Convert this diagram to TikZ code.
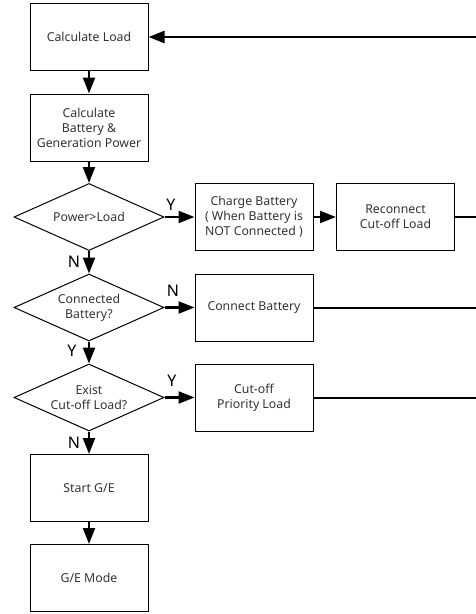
\documentclass[tikz,border=0pt]{standalone}
\usepackage{fontspec}
\setmainfont{Noto Sans}
\usetikzlibrary{shapes.geometric,arrows.meta}

\begin{document}
\begin{tikzpicture}[x=1pt,y=-1pt,
	box/.style={draw,line width=1pt,minimum width=118pt,minimum height=67pt,inner sep=2pt,align=center,
		text=black!80,font=\fontsize{12.3}{15}\selectfont},
	decision/.style={draw,diamond,line width=1pt,minimum width=150pt,minimum height=67pt,inner sep=0pt},
	dtext/.style={inner sep=0pt,align=center,text=black!80,font=\fontsize{12.3}{15}\selectfont},
	flow/.style={line width=2.2pt,-{Triangle[length=16pt,width=12pt]}},
	back/.style={line width=2.2pt},
	yn/.style={inner sep=0pt,font=\fontsize{16}{16}\selectfont}]

	\useasboundingbox (0,0) rectangle (476,614);

	% main column
	\node[box] (load) at (89,37) {Calculate Load};
	\node[box] (power) at (89,127.5) {Calculate\\Battery \&\\Generation Power};
	\node[decision,label={[dtext]center:Power>Load}] (over) at (89,217) {};
	\node[decision,label={[dtext]center:Connected\\Battery?}] (connected) at (89,307.5) {};
	\node[decision,label={[dtext]center:Exist\\Cut-off Load?}] (exist) at (89,397.5) {};
	\node[box] (start) at (89,488) {Start G/E};
	\node[box] (mode) at (89,578) {G/E Mode};

	% actions
	\node[box] (charge) at (254,217) {Charge Battery\\( When Battery is\\NOT Connected )};
	\node[box] (reconnect) at (395.5,217) {Reconnect\\Cut-off Load};
	\node[box] (connect) at (254,308) {Connect Battery};
	\node[box] (cutoff) at (254,398) {Cut-off\\Priority Load};

	\coordinate (r0) at (476,37);
	\coordinate (r1) at (476,217);
	\coordinate (r2) at (476,308);
	\coordinate (r3) at (476,398);

	\draw[flow] (load) -- (power);
	\draw[flow] (power) -- (over);
	\draw[flow] (over) -- (connected);
	\draw[flow] (connected) -- (exist);
	\draw[flow] (exist) -- (start);
	\draw[flow] (start) -- (mode);

	\draw[flow] (over) -- (charge);
	\draw[flow] (charge) -- (reconnect);
	\draw[flow] (connected) -- (connected -| connect.west);
	\draw[flow] (exist) -- (exist -| cutoff.west);

	\draw[back] (reconnect) -- (r1);
	\draw[back] (connect) -- (r2);
	\draw[back] (cutoff) -- (r3);
	\draw[flow] (r0) -- (load);

	\node[yn] (y1) at (171,205) {Y};
	\node[yn] (n1) at (74,262) {N};
	\node[yn] (n2) at (173,291) {N};
	\node[yn] (y2) at (72,351) {Y};
	\node[yn] (y3) at (172,381) {Y};
	\node[yn] (n3) at (74,443) {N};

\end{tikzpicture}
\end{document}
